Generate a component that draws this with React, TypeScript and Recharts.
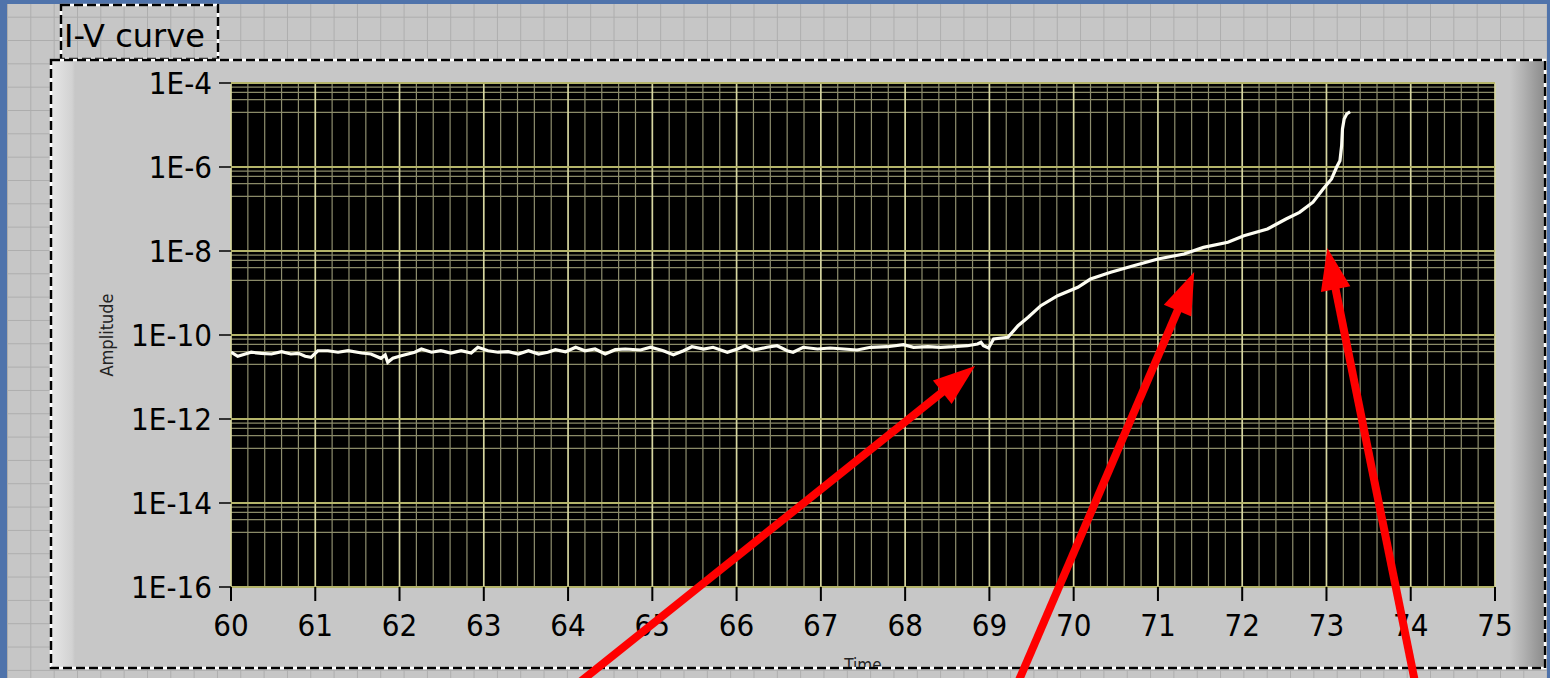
import { LineChart, Line, XAxis, YAxis, CartesianGrid, ReferenceLine } from "recharts";

// sweep position (x) and measured current (y) of the I-V trace
const times = [
  60.0, 60.08, 60.17, 60.24, 60.36, 60.48, 60.6, 60.71, 60.8, 60.88, 60.95,
  61.03, 61.15, 61.27, 61.39, 61.55, 61.66, 61.78, 61.83, 61.86, 61.92,
  62.02, 62.18, 62.26, 62.38, 62.49, 62.61, 62.73, 62.85, 62.93,
  63.05, 63.17, 63.29, 63.41, 63.53, 63.65, 63.76, 63.85, 63.97,
  64.09, 64.2, 64.32, 64.44, 64.56, 64.68, 64.86, 64.98,
  65.13, 65.25, 65.37, 65.47, 65.61, 65.72, 65.89,
  66.01, 66.1, 66.2, 66.36, 66.48, 66.6, 66.67, 66.79, 66.96,
  67.11, 67.27, 67.43, 67.59, 67.79, 67.98,
  68.1, 68.27, 68.42, 68.57, 68.74, 68.86, 68.9, 68.93, 68.99,
  69.05, 69.22, 69.34, 69.46, 69.61, 69.81,
  70.05, 70.2, 70.44, 70.71, 71.0, 71.31, 71.54, 71.83,
  72.02, 72.3, 72.52, 72.68, 72.84, 72.96,
  73.06, 73.12, 73.16, 73.18, 73.19, 73.21, 73.24, 73.28,
];

const amplitudes = [
  3.89e-11, 3.11e-11, 3.53e-11, 3.89e-11, 3.66e-11, 3.53e-11, 4.0e-11, 3.53e-11, 3.66e-11, 3.11e-11, 2.94e-11,
  4.22e-11, 4.22e-11, 3.89e-11, 4.22e-11, 3.72e-11, 3.53e-11, 2.79e-11, 3.34e-11, 2.24e-11, 2.79e-11,
  3.22e-11, 3.89e-11, 4.64e-11, 3.89e-11, 4.22e-11, 3.72e-11, 4.22e-11, 3.72e-11, 5.1e-11,
  4.22e-11, 3.89e-11, 4.0e-11, 3.53e-11, 4.22e-11, 3.53e-11, 3.89e-11, 4.47e-11, 4.0e-11,
  5.1e-11, 4.22e-11, 4.64e-11, 3.53e-11, 4.47e-11, 4.64e-11, 4.4e-11, 5.1e-11,
  4.22e-11, 3.4e-11, 4.22e-11, 5.26e-11, 4.64e-11, 5.1e-11, 3.89e-11,
  4.64e-11, 5.56e-11, 4.4e-11, 5.1e-11, 5.56e-11, 4.22e-11, 3.89e-11, 5.1e-11, 4.64e-11,
  4.9e-11, 4.64e-11, 4.4e-11, 5.1e-11, 5.26e-11, 5.88e-11,
  5.1e-11, 5.26e-11, 5.1e-11, 5.26e-11, 5.56e-11, 6.11e-11, 6.7e-11, 5.56e-11, 4.9e-11,
  8.04e-11, 8.81e-11, 1.66e-10, 2.64e-10, 4.99e-10, 8.63e-10,
  1.37e-9, 2.15e-9, 3.11e-9, 4.47e-9, 6.46e-9, 8.49e-9, 1.22e-8, 1.61e-8,
  2.31e-8, 3.34e-8, 5.78e-8, 8.34e-8, 1.45e-7, 2.99e-7,
  5.18e-7, 9.84e-7, 1.41e-6, 3.21e-6, 8.04e-6, 1.39e-5, 1.83e-5, 2.07e-5,
];

const timeTicks = [60, 61, 62, 63, 64, 65, 66, 67, 68, 69, 70, 71, 72, 73, 74, 75];
const ampTicks = [1e-4, 1e-6, 1e-8, 1e-10, 1e-12, 1e-14, 1e-16];

// annotation arrows: tail (off the bottom) -> tip, in data units
const arrowTails = [
  { time: 64.02, amp: 3.5e-19 },
  { time: 69.3, amp: 3.5e-19 },
  { time: 74.07, amp: 3.5e-19 },
];
const arrowTips = [
  { time: 68.83, amp: 1.83e-11 },
  { time: 71.43, amp: 3.16e-9 },
  { time: 73.01, amp: 1.18e-8 },
];

const rows = times.map((t, i) => ({ time: t, amp: amplitudes[i] }));

// minor grid: every 0.2 on x, 2/4/6/8 steps under each labelled decade on y
const minorTimes = timeTicks
  .slice(0, -1)
  .flatMap((t) => [0.2, 0.4, 0.6, 0.8].map((f) => +(t + f).toFixed(1)));
const minorAmps = ampTicks.slice(0, -1).flatMap((v) => [0.8, 0.6, 0.4, 0.2].map((f) => v * f));

const FONT = "'DejaVu Sans Condensed', 'DejaVu Sans', sans-serif";

function Arrow(props: any) {
  const { x1, y1, x2, y2 } = props;
  const dx = x2 - x1;
  const dy = y2 - y1;
  const len = Math.hypot(dx, dy);
  const ux = dx / len;
  const uy = dy / len;
  const head = 42;
  const half = 15;
  const bx = x2 - ux * head;
  const by = y2 - uy * head;
  const px = -uy;
  const py = ux;
  return (
    <g>
      <line x1={x1} y1={y1} x2={bx + ux * 4} y2={by + uy * 4} stroke="#ff0000" strokeWidth={8} />
      <polygon
        points={`${x2},${y2} ${bx + px * half},${by + py * half} ${bx - px * half},${by - py * half}`}
        fill="#ff0000"
      />
    </g>
  );
}

function AmpLabel(props: any) {
  const { viewBox } = props;
  const cx = viewBox.x + 106;
  const cy = viewBox.y + viewBox.height / 2;
  return (
    <text
      x={cx}
      y={cy}
      transform={`rotate(-90, ${cx}, ${cy})`}
      textAnchor="middle"
      dominantBaseline="central"
      fontSize={18}
      fontFamily={FONT}
      fill="#222"
    >
      Amplitude
    </text>
  );
}

function TimeLabel(props: any) {
  const { viewBox } = props;
  const cx = viewBox.x + viewBox.width / 2;
  const bottom = viewBox.y + 80;
  return (
    <g>
      <defs>
        <clipPath id="time-label-clip">
          <rect x={cx - 60} y={viewBox.y + 40} width={120} height={bottom - viewBox.y - 40} />
        </clipPath>
      </defs>
      <text
        x={cx}
        y={bottom + 4}
        textAnchor="middle"
        fontSize={17}
        fontFamily={FONT}
        fill="#222"
        clipPath="url(#time-label-clip)"
      >
        Time
      </text>
    </g>
  );
}

export default function App() {
  return (
    <div
      style={{
        position: "absolute",
        left: 0,
        top: 0,
        width: 1550,
        height: 678,
        overflow: "hidden",
        background: "#4f73ab",
      }}
    >
      {/* front panel with its alignment grid */}
      <div
        style={{
          position: "absolute",
          left: 7,
          top: 4,
          width: 1540,
          height: 674,
          backgroundColor: "#c6c6c6",
          backgroundImage:
            "linear-gradient(to right, #adadad 1px, transparent 1px), linear-gradient(to bottom, #adadad 1px, transparent 1px)",
          backgroundSize: "23.33px 23.33px",
          backgroundPosition: "0px 12.7px",
        }}
      />
      {/* graph body */}
      <div
        style={{
          position: "absolute",
          left: 52,
          top: 61,
          width: 1492,
          height: 606,
          background:
            "linear-gradient(to right, #e6e6e6 0px, #d2d2d2 20px, #c7c7c7 23px, #c7c7c7 1458px, #b4b4b4 1470px, #8c8c8c 1492px)",
        }}
      />
      <svg width={1550} height={678} style={{ position: "absolute", left: 0, top: 0 }}>
        <rect x={61} y={5} width={157} height={54} fill="none" stroke="#fff" strokeWidth={2.5} />
        <rect x={61} y={5} width={157} height={54} fill="none" stroke="#000" strokeWidth={2.5} strokeDasharray="9 4" />
        <rect x={51} y={60} width={1494} height={608} fill="none" stroke="#fff" strokeWidth={2.5} />
        <rect x={51} y={60} width={1494} height={608} fill="none" stroke="#000" strokeWidth={2.5} strokeDasharray="9 4" />
        <text x={64} y={47} fontSize={32} fontFamily="'DejaVu Sans', sans-serif" fill="#000">
          I-V curve
        </text>
      </svg>
      <div style={{ position: "absolute", left: 0, top: 0 }}>
        <LineChart width={1550} height={678} data={rows} margin={{ top: 83, right: 55, bottom: 0, left: 0 }}>
          <CartesianGrid fill="#000" horizontal={false} vertical={false} />
          <XAxis
            dataKey="time"
            type="number"
            domain={[60, 75]}
            ticks={timeTicks}
            allowDataOverflow
            height={91}
            axisLine={false}
            tickSize={14}
            tickMargin={13}
            tickLine={{ stroke: "#000", strokeWidth: 2 }}
            tick={{ fontSize: 31, fill: "#000", fontFamily: FONT }}
            label={{ content: (p: any) => <TimeLabel {...p} /> }}
          />
          <YAxis
            type="number"
            scale="log"
            domain={[1e-16, 1e-4]}
            ticks={ampTicks}
            allowDataOverflow
            width={231}
            axisLine={false}
            tickSize={12}
            tickMargin={7}
            tickLine={{ stroke: "#000", strokeWidth: 1.5 }}
            tick={{ fontSize: 31, fill: "#000", fontFamily: FONT }}
            tickFormatter={(v: number) => `1E${Math.round(Math.log10(v))}`}
            label={{ content: (p: any) => <AmpLabel {...p} /> }}
          />
          {minorTimes.map((t) => (
            <ReferenceLine key={`vx${t}`} x={t} stroke="#8e8e6e" strokeWidth={1.2} zIndex={-50} />
          ))}
          {minorAmps.map((v) => (
            <ReferenceLine key={`hy${v}`} y={v} stroke="#8a8a68" strokeWidth={1.3} zIndex={-50} />
          ))}
          {timeTicks.map((t) => (
            <ReferenceLine key={`VX${t}`} x={t} stroke="#d6d6a0" strokeWidth={1.7} zIndex={-40} />
          ))}
          {ampTicks.map((v) => (
            <ReferenceLine key={`HY${v}`} y={v} stroke="#b4b46a" strokeWidth={2} zIndex={-40} />
          ))}
          <Line
            type="linear"
            dataKey="amp"
            stroke="#fdfdf2"
            strokeWidth={3.2}
            dot={false}
            isAnimationActive={false}
          />
          {arrowTails.map((tail, i) => (
            <ReferenceLine
              key={`arrow${i}`}
              segment={[
                { x: tail.time, y: tail.amp },
                { x: arrowTips[i].time, y: arrowTips[i].amp },
              ]}
              ifOverflow="visible"
              shape={(p: any) => <Arrow {...p} />}
              zIndex={3000}
            />
          ))}
        </LineChart>
      </div>
    </div>
  );
}
